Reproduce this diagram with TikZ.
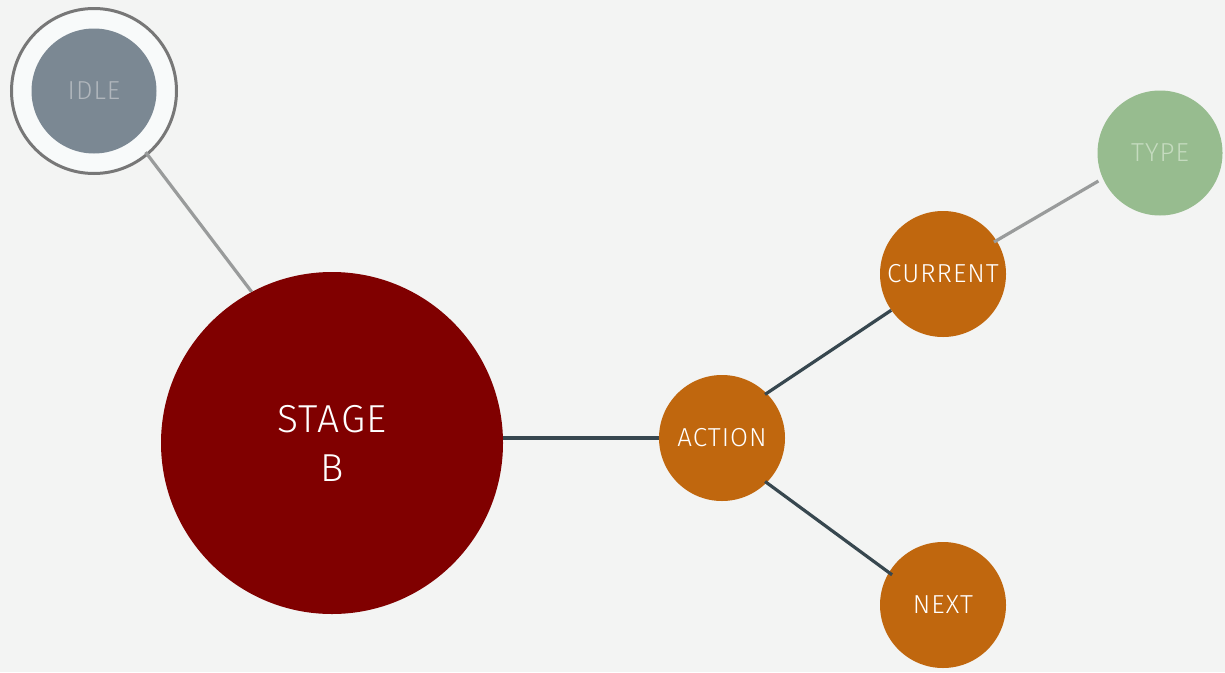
\documentclass[tikz,border=0pt]{standalone}
\usepackage{fontspec}
\setmainfont{Fira Sans}[UprightFont=* Light, LetterSpace=4]
\definecolor{bg}{HTML}{F3F4F3}
\definecolor{stagec}{HTML}{800000}
\definecolor{orangec}{HTML}{C0670E}
\definecolor{idlec}{HTML}{7B8893}
\definecolor{idletext}{HTML}{B0B6BC}
\definecolor{ringc}{HTML}{F8FAFA}
\definecolor{ringline}{HTML}{777777}
\definecolor{typec}{HTML}{97BC8F}
\definecolor{typetext}{HTML}{C5DBBF}
\definecolor{darkline}{HTML}{37474F}
\definecolor{grayline}{HTML}{999B9B}
\tikzset{
  blob/.style={circle, inner sep=0pt, minimum size=126pt, font=\fontsize{26}{30}\selectfont, text=white},
  orangeblob/.style={blob, fill=orangec},
  darkedge/.style={draw=darkline, line width=3.2pt},
  grayedge/.style={draw=grayline, line width=3.2pt},
}
\begin{document}
\begin{tikzpicture}[x=1pt,y=-1pt]
\fill[bg] (0,0) rectangle (1225,672);
\useasboundingbox (0,0) rectangle (1225,672);
\node[circle, fill=ringc, draw=ringline, line width=3pt, minimum size=165pt, inner sep=0pt] (ring) at (94,91) {};
\node[blob, fill=idlec, text=idletext, minimum size=125pt] (idle) at (94,91) {\raisebox{-2pt}{IDLE}};
\node[circle, fill=stagec, minimum size=342pt, inner sep=0pt, text=white, align=center, font=\fontsize{39}{49}\selectfont] (stage) at (332,443) {STAGE\\B};
\node[orangeblob] (action) at (722,438) {\raisebox{-2pt}{ACTION}};
\node[orangeblob] (current) at (943,274) {\raisebox{-2pt}{CURRENT}};
\node[orangeblob] (next) at (943,605) {\raisebox{-2pt}{NEXT}};
\node[blob, fill=typec, text=typetext, minimum size=125pt] (type) at (1160,153) {\raisebox{-2pt}{TYPE}};
\draw[grayedge, shorten <=-4pt] (ring.-50.6) -- (stage.118.4);
\draw[darkedge] (stage.east |- action.west) -- (action.west);
\draw[darkedge, shorten <=-2pt] (action.45) -- (current.215.2);
\draw[darkedge, shorten <=-2pt, shorten >=-4pt] (action.-45) -- (next.149.5);
\draw[grayedge, shorten <=-3pt, shorten >=5pt] (current.32.1) -- (type.204.3);
\end{tikzpicture}
\end{document}
